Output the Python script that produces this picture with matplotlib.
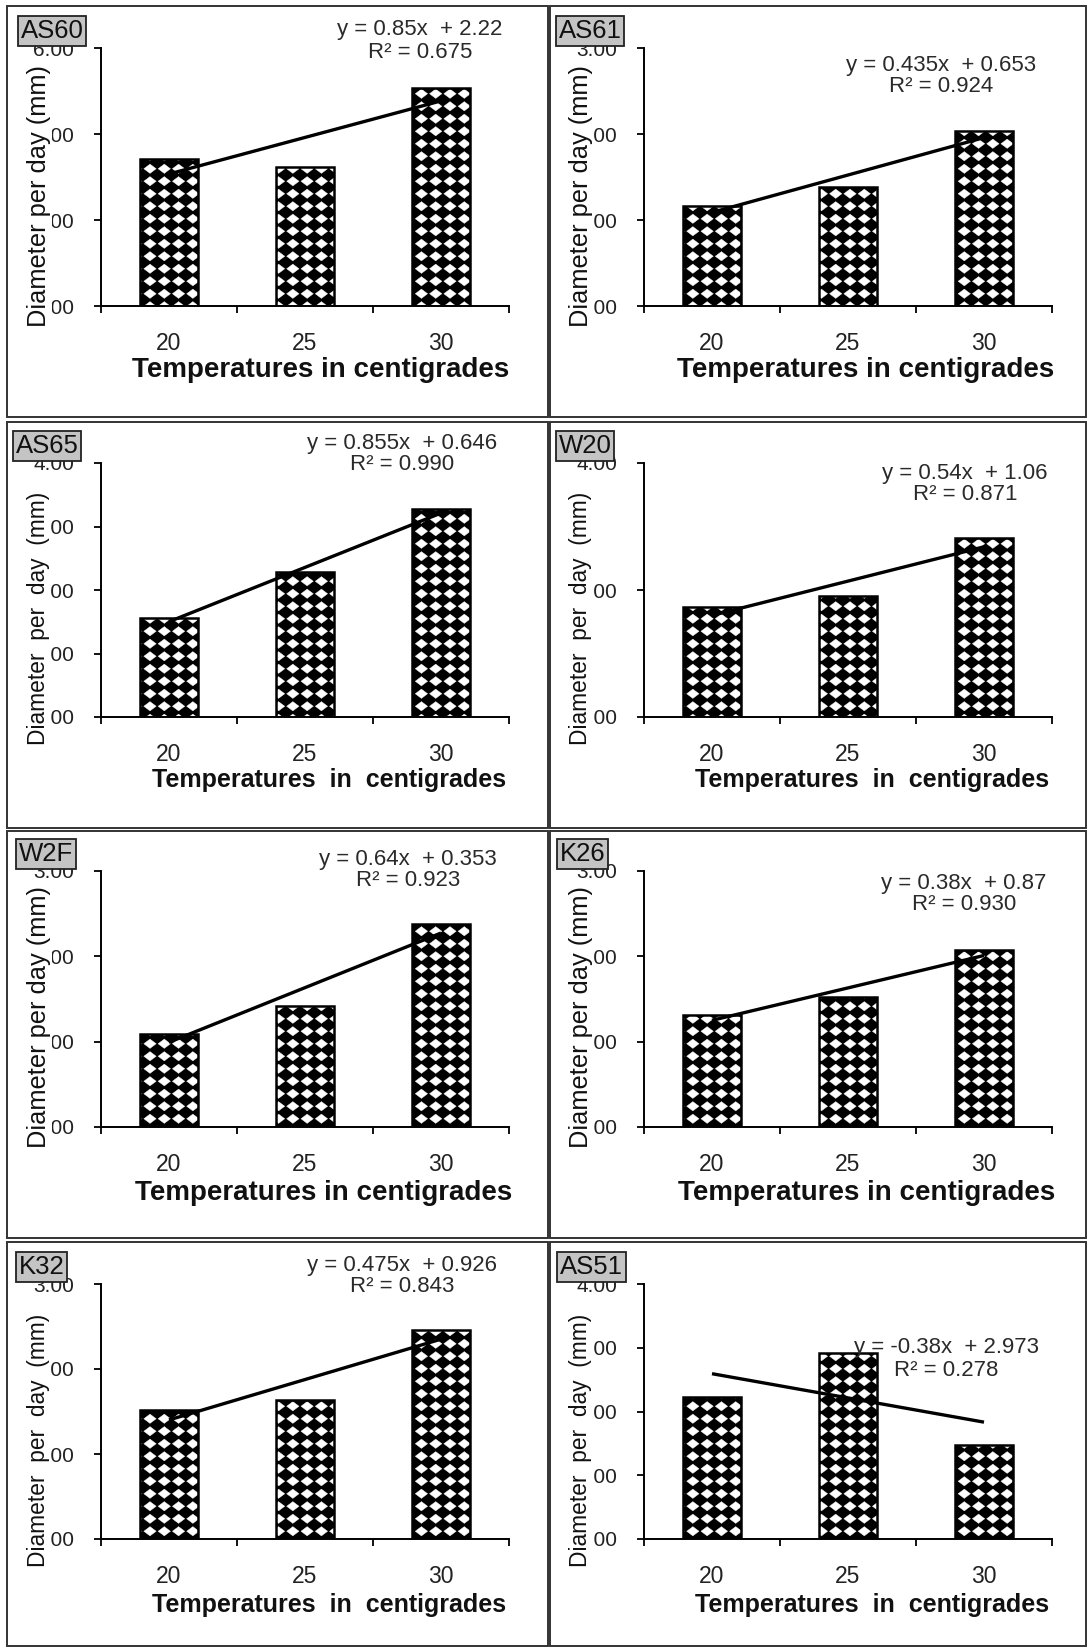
import numpy as np
import matplotlib
matplotlib.use("Agg")
import matplotlib.pyplot as plt
import matplotlib.hatch as mhatch
from matplotlib.path import Path
from matplotlib.patches import Rectangle

# ---------------- data ----------------
categories = ["20", "25", "30"]
isolates = ["AS60", "AS61", "AS65", "W20", "W2F", "K26", "K32", "AS51"]
AS60 = [3.41, 3.24, 5.08]
AS61 = [1.16, 1.38, 2.03]
AS65 = [1.56, 2.28, 3.28]
W20 = [1.73, 1.91, 2.82]
W2F = [1.09, 1.42, 2.38]
K26 = [1.31, 1.52, 2.07]
K32 = [1.52, 1.63, 2.46]
AS51 = [2.23, 2.92, 1.47]
slopes = [0.85, 0.435, 0.855, 0.54, 0.64, 0.38, 0.475, -0.38]
intercepts = [2.22, 0.653, 0.646, 1.06, 0.353, 0.87, 0.926, 2.973]
r_squared = [0.675, 0.924, 0.990, 0.871, 0.923, 0.930, 0.843, 0.278]
y_max = [6, 3, 4, 4, 3, 3, 3, 4]
y_step = [2, 1, 1, 2, 1, 1, 1, 1]
series = [AS60, AS61, AS65, W20, W2F, K26, K32, AS51]


# ------------- white-diamond bar pattern (Excel-like) -------------
class _DiamondGrid(mhatch.HatchPatternBase):
    def __init__(self, hatch, density):
        n = hatch.count("*")
        self.ncols = 7 * n
        self.nrows = 8 * n
        self.num_vertices = self.ncols * self.nrows * 5

    def set_vertices_and_codes(self, vertices, codes):
        hx = 0.43 / self.ncols
        hy = 0.37 / self.nrows
        shape = np.array([[-hx, 0], [0, hy], [hx, 0], [0, -hy], [-hx, 0]])
        scode = [Path.MOVETO, Path.LINETO, Path.LINETO, Path.LINETO, Path.CLOSEPOLY]
        k = 0
        for j in range(self.nrows):
            for i in range(self.ncols):
                vertices[k:k + 5] = shape + [(i + 0.5) / self.ncols, (j + 0.5) / self.nrows]
                codes[k:k + 5] = scode
                k += 5


mhatch._hatch_types = [t for t in mhatch._hatch_types if t is not mhatch.Stars] + [_DiamondGrid]

plt.rcParams["font.family"] = ["Liberation Sans", "DejaVu Sans"]
plt.rcParams["hatch.linewidth"] = 0.3

# ---------------- layout (pixels) ----------------
W, H, DPI = 1088, 1648, 100
fig = plt.figure(figsize=(W / DPI, H / DPI), dpi=DPI)


def fx(x):
    return x / W


def fy(y):
    return 1 - y / H


col_x = [(101, 509), (644, 1052)]
row_y = [(48, 306), (463, 717), (871, 1127), (1284, 1539)]
panel_x = [(7, 548), (550, 1086)]
panel_y = [(6, 417), (422, 828), (831, 1238), (1242, 1646)]
eq_pos = [(420, 30), (941, 65), (402, 443), (965, 473),
          (408, 859), (964, 883), (402, 1265), (946, 1348)]
xlab_cx = [321, 866, 329, 872, 324, 867, 329, 872]
xlab_cy = [370, 780, 1193, 1605]
ylab_cx = [39, 581]
ylab_cy = [196, 618, 1017, 1440]
name_dx = [11, 6, 6, 6, 9, 7, 9, 7]

for r in range(4):
    for c in range(2):
        px0, px1 = panel_x[c]
        py0, py1 = panel_y[r]
        fig.add_artist(Rectangle((fx(px0), fy(py1)), (px1 - px0) / W, (py1 - py0) / H,
                                 transform=fig.transFigure, fill=False,
                                 edgecolor="#333333", linewidth=1.4))

for i, name in enumerate(isolates):
    r, c = divmod(i, 2)
    x0, x1 = col_x[c]
    y0, y1 = row_y[r]
    spaced = r in (1, 3)
    ax = fig.add_axes([fx(x0), fy(y1), (x1 - x0) / W, (y1 - y0) / H])
    vals = series[i]
    xpos = np.arange(len(categories))
    ax.bar(xpos, vals, width=0.42, color="black", edgecolor="white",
           linewidth=0, hatch="*", zorder=2)
    ax.bar(xpos, vals, width=0.42, fill=False, edgecolor="black",
           linewidth=1.8, zorder=3)
    xn = xpos + 1
    ax.plot(xpos, slopes[i] * xn + intercepts[i], color="black", lw=2.4,
            zorder=4, solid_capstyle="butt")

    ax.set_xlim(-0.5, 2.5)
    ax.set_ylim(0, y_max[i])
    yt = np.arange(0, y_max[i] + 0.001, y_step[i])
    ax.set_yticks(yt, [f"{v:.2f}" for v in yt])
    ax.set_xticks(xpos, categories)
    ax.set_xticks([-0.5, 0.5, 1.5, 2.5], minor=True)
    ax.tick_params(axis="x", which="major", length=0, pad=19, labelsize=16.5,
                   labelcolor="#222222")
    ax.tick_params(axis="x", which="minor", length=5, width=1.3, direction="out")
    ax.tick_params(axis="y", length=5, width=1.3, pad=14.4, labelsize=15,
                   labelcolor="#222222")
    ax.spines[["top", "right"]].set_visible(False)
    for s in ("left", "bottom"):
        ax.spines[s].set_linewidth(1.4)
    ax.patch.set_alpha(0)

    ylabel = "Diameter  per  day  (mm)" if spaced else "Diameter per day (mm)"
    xlabel = "Temperatures  in  centigrades" if spaced else "Temperatures in centigrades"
    ax.set_ylabel(ylabel, fontsize=16.4 if spaced else 18.3, color="#111111",
                  bbox=dict(facecolor="white", edgecolor="none", pad=0.3))
    ax.yaxis.label.set_va("center")
    ax.yaxis.set_label_coords((ylab_cx[c] - x0) / (x1 - x0),
                              (y1 - ylab_cy[r]) / (y1 - y0))
    ax.set_xlabel(xlabel, fontsize=18 if spaced else 20, fontweight="bold",
                  color="#111111")
    ax.xaxis.label.set_va("center")
    ax.xaxis.set_label_coords((xlab_cx[i] - x0) / (x1 - x0),
                              (y1 - xlab_cy[r]) / (y1 - y0))

    ex, ey = eq_pos[i]
    ax.text(fx(ex), fy(ey), f"y = {slopes[i]:g}x  + {intercepts[i]:g}",
            transform=fig.transFigure, ha="center", va="center",
            fontsize=16, color="#2a2a2a", zorder=6)
    ax.text(fx(ex), fy(ey + 22), f"R\u00b2 = {r_squared[i]:.3f}",
            transform=fig.transFigure, ha="center", va="center",
            fontsize=16, color="#2a2a2a", zorder=6)

    fig.text(fx(panel_x[c][0] + name_dx[i] + 3), fy(y0 - 17), name,
             ha="left", va="center", fontsize=18.5, color="#111111",
             bbox=dict(boxstyle="square,pad=0.1", facecolor="#c4c4c4",
                       edgecolor="#222222", linewidth=1.3), zorder=10)

fig.savefig("out.png", dpi=DPI)
